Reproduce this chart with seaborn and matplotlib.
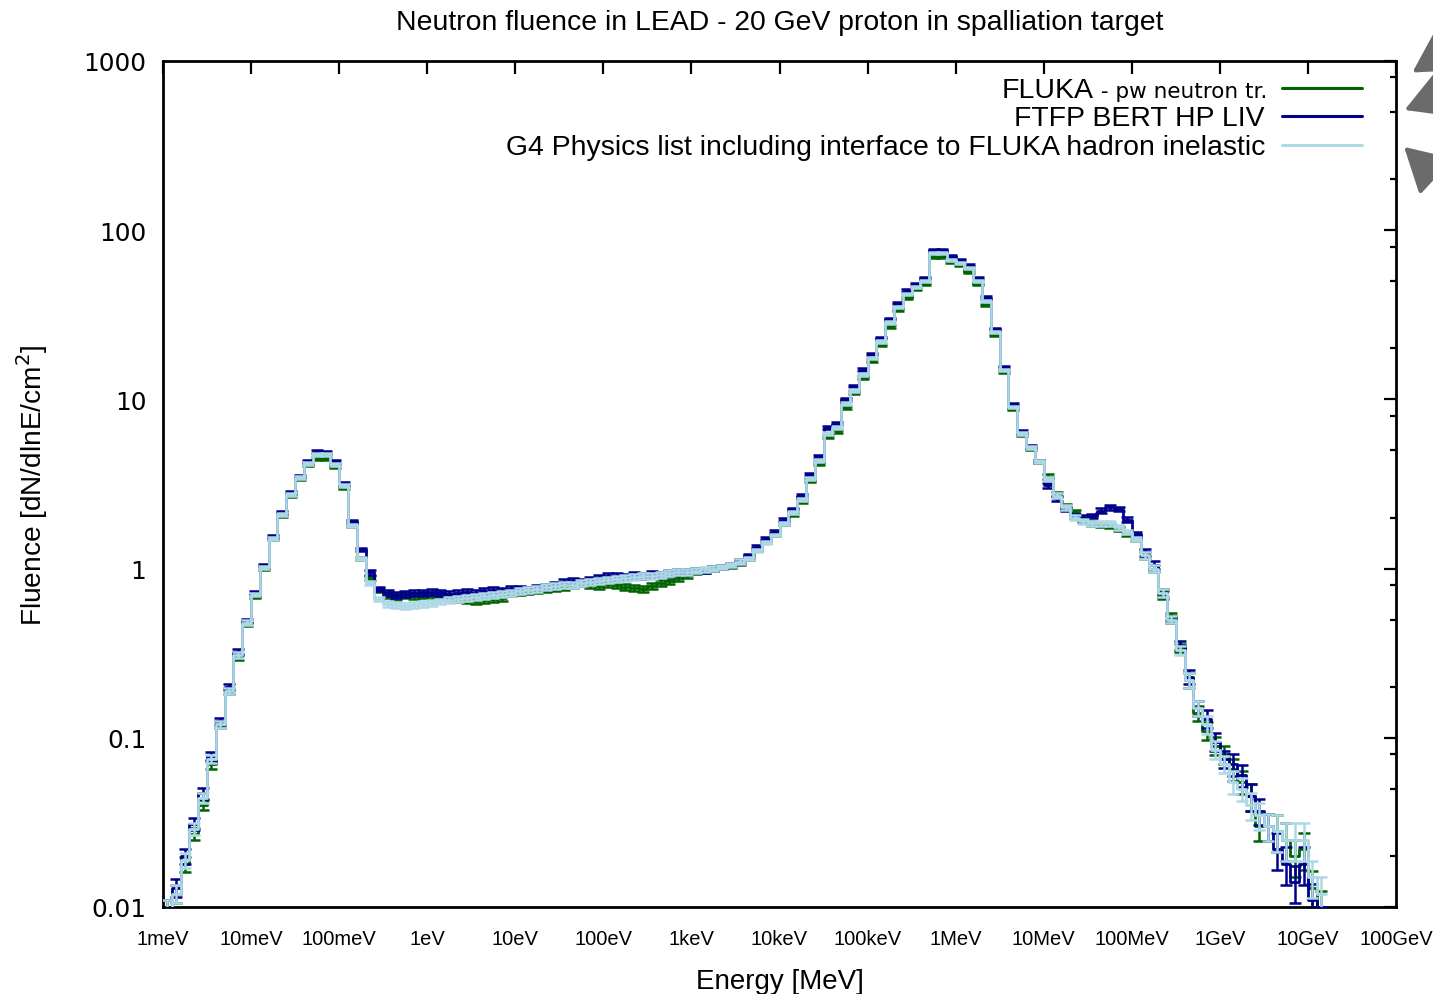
import numpy as np
import pandas as pd
import matplotlib
matplotlib.use("Agg")
import matplotlib.pyplot as plt
import seaborn as sns
from matplotlib.ticker import FixedLocator, NullLocator, NullFormatter

# ---------------- data ----------------
series_names = ["FLUKA", "FTFP BERT HP LIV",
                "G4 Physics list including interface to FLUKA hadron inelastic"]
series_colors = ["#006400", "#00008b", "#add8e6"]

e_min_mev = 1e-9          # 1 meV, lower edge of first bin
bins_per_decade = 10

fluka = [
    0.0095, 0.012, 0.018, 0.027, 0.04, 0.07, 0.12, 0.19, 0.30, 0.47,
    0.68, 1.0, 1.5, 2.05, 2.7, 3.4, 4.1, 4.5, 4.5, 4.0,
    3.0, 1.8, 1.15, 0.88, 0.75, 0.70, 0.68, 0.70, 0.69, 0.70,
    0.69, 0.70, 0.68, 0.66, 0.65, 0.64, 0.65, 0.66, 0.67, 0.72,
    0.73, 0.74, 0.75, 0.76, 0.77, 0.78, 0.80, 0.82, 0.80, 0.79,
    0.81, 0.80, 0.78, 0.77, 0.76, 0.79, 0.82, 0.84, 0.88, 0.92,
    0.96, 0.98, 1.0, 1.02, 1.04, 1.08, 1.15, 1.3, 1.45, 1.6,
    1.85, 2.1, 2.5, 3.3, 4.2, 6.0, 6.5, 9.0, 11.0, 13.5,
    17.0, 21.0, 27.0, 34.0, 40.0, 45.0, 48.0, 70.0, 70.0, 65.0,
    62.0, 57.0, 48.0, 36.0, 24.0, 14.5, 8.8, 6.2, 5.1, 4.3,
    3.5, 2.75, 2.35, 2.15, 1.95, 1.85, 1.82, 1.78, 1.72, 1.6,
    1.5, 1.2, 1.0, 0.7, 0.52, 0.34, 0.22, 0.14, 0.11, 0.09,
    0.08, 0.065, 0.055, 0.045, 0.03, 0.03, 0.028, 0.025, 0.02, 0.022,
    0.013, 0.01,
]

ftfp = [
    0.0095, 0.013, 0.02, 0.031, 0.047, 0.078, 0.125, 0.2, 0.32, 0.49,
    0.72, 1.05, 1.55, 2.15, 2.8, 3.5, 4.3, 4.9, 4.85, 4.3,
    3.2, 1.9, 1.3, 0.95, 0.76, 0.72, 0.70, 0.71, 0.72, 0.72,
    0.73, 0.72, 0.71, 0.72, 0.73, 0.72, 0.74, 0.75, 0.74, 0.76,
    0.76, 0.75, 0.77, 0.78, 0.80, 0.83, 0.85, 0.84, 0.86, 0.88,
    0.90, 0.90, 0.89, 0.92, 0.91, 0.93, 0.92, 0.94, 0.95, 0.95,
    0.97, 0.98, 1.0, 1.02, 1.05, 1.1, 1.2, 1.35, 1.5, 1.65,
    1.95, 2.25, 2.7, 3.6, 4.6, 6.8, 7.2, 10.0, 12.0, 15.0,
    18.5, 23.0, 30.0, 37.0, 44.0, 48.0, 52.0, 76.0, 76.0, 70.0,
    67.0, 62.0, 52.0, 40.0, 26.0, 15.5, 9.4, 6.5, 5.3, 4.3,
    3.1, 2.6, 2.25, 2.05, 2.0, 2.05, 2.2, 2.3, 2.25, 1.95,
    1.6, 1.25, 1.05, 0.72, 0.5, 0.35, 0.23, 0.15, 0.13, 0.095,
    0.075, 0.07, 0.06, 0.045, 0.037, 0.03, 0.022, 0.018, 0.014, 0.018,
    0.011, 0.008,
]

g4fluka = [
    0.0095, 0.012, 0.019, 0.029, 0.044, 0.075, 0.12, 0.19, 0.31, 0.48,
    0.70, 1.02, 1.5, 2.1, 2.75, 3.45, 4.2, 4.75, 4.75, 4.15,
    3.1, 1.8, 1.15, 0.82, 0.66, 0.62, 0.61, 0.60, 0.61, 0.62,
    0.63, 0.64, 0.65, 0.66, 0.67, 0.68, 0.69, 0.70, 0.71, 0.72,
    0.74, 0.75, 0.76, 0.78, 0.79, 0.80, 0.80, 0.82, 0.83, 0.85,
    0.86, 0.87, 0.88, 0.89, 0.90, 0.91, 0.92, 0.94, 0.95, 0.96,
    0.97, 0.99, 1.0, 1.02, 1.05, 1.1, 1.15, 1.28, 1.42, 1.58,
    1.85, 2.15, 2.55, 3.4, 4.35, 6.3, 6.8, 9.4, 11.3, 14.0,
    17.5, 22.0, 28.5, 35.0, 42.0, 46.0, 50.0, 73.0, 73.0, 67.0,
    64.0, 60.0, 50.0, 38.0, 25.0, 15.0, 9.0, 6.3, 5.2, 4.3,
    3.4, 2.7, 2.3, 2.0, 1.9, 1.85, 1.85, 1.85, 1.75, 1.65,
    1.5, 1.2, 1.0, 0.72, 0.5, 0.33, 0.22, 0.15, 0.12, 0.085,
    0.07, 0.055, 0.05, 0.04, 0.035, 0.03, 0.028, 0.025, 0.025, 0.025,
    0.015, 0.012,
]

rel_err = [
    0.15, 0.12, 0.10, 0.08, 0.07, 0.06, 0.05, 0.04, 0.04, 0.03,
    0.02, 0.02, 0.02, 0.02, 0.02, 0.02, 0.02, 0.02, 0.02, 0.02,
    0.02, 0.02, 0.02, 0.03, 0.03, 0.04, 0.04, 0.04, 0.04, 0.04,
    0.04, 0.04, 0.04, 0.04, 0.04, 0.04, 0.04, 0.04, 0.04, 0.04,
    0.04, 0.04, 0.04, 0.04, 0.04, 0.04, 0.04, 0.04, 0.04, 0.04,
    0.04, 0.04, 0.04, 0.04, 0.04, 0.04, 0.04, 0.04, 0.04, 0.04,
    0.035, 0.035, 0.035, 0.03, 0.03, 0.03, 0.02, 0.02, 0.02, 0.02,
    0.02, 0.02, 0.02, 0.02, 0.02, 0.02, 0.02, 0.02, 0.02, 0.02,
    0.015, 0.015, 0.015, 0.015, 0.015, 0.015, 0.015, 0.015, 0.015, 0.015,
    0.015, 0.015, 0.015, 0.015, 0.015, 0.015, 0.015, 0.02, 0.02, 0.02,
    0.03, 0.03, 0.03, 0.03, 0.03, 0.03, 0.03, 0.03, 0.03, 0.03,
    0.03, 0.05, 0.05, 0.05, 0.05, 0.06, 0.10, 0.10, 0.12, 0.12,
    0.12, 0.15, 0.15, 0.18, 0.18, 0.18, 0.25, 0.25, 0.25, 0.25,
    0.25, 0.25,
]

xtick_values = [1e-9, 1e-8, 1e-7, 1e-6, 1e-5, 1e-4, 1e-3, 1e-2, 1e-1,
                1e0, 1e1, 1e2, 1e3, 1e4, 1e5]
xtick_labels = ["1meV", "10meV", "100meV", "1eV", "10eV", "100eV", "1keV",
                "10keV", "100keV", "1MeV", "10MeV", "100MeV", "1GeV",
                "10GeV", "100GeV"]
ytick_values = [0.01, 0.1, 1, 10, 100, 1000]
ytick_labels = ["0.01", "0.1", "1", "10", "100", "1000"]
ytick_minor = [m * d for d in [0.01, 0.1, 1, 10, 100] for m in (2, 5, 8)]

title = "Neutron fluence in LEAD - 20 GeV proton in spalliation target"
xlabel = "Energy [MeV]"
ylabel = "Fluence [dN/dlnE/cm$^2$]"

# ---------------- figure ----------------
sns.set_style("white")
plt.rcParams["font.family"] = ["Liberation Sans", "DejaVu Sans"]
for key in ["text.color", "axes.labelcolor", "xtick.color", "ytick.color"]:
    plt.rcParams[key] = "black"

W, H = 1433, 995
fig = plt.figure(figsize=(W / 100, H / 100), dpi=100)
ax = fig.add_axes([163 / W, 1 - 908 / H, 1233 / W, 846 / H])

n_bins = len(ftfp)
edges = e_min_mev * 10 ** (np.arange(n_bins + 1) / bins_per_decade)
centers = np.sqrt(edges[:-1] * edges[1:])

all_series = [fluka, ftfp, g4fluka]
z = 2
for name, color, vals in zip(series_names, series_colors, all_series):
    vals = np.asarray(vals, dtype=float)
    err = vals * np.asarray(rel_err)
    ax.errorbar(centers, vals, yerr=err, fmt="none", ecolor=color,
                elinewidth=1.8, capsize=4.2, capthick=1.8, zorder=z)
    df = pd.DataFrame({"E": np.append(edges[:-1], edges[-1]),
                       "flux": np.append(vals, vals[-1]),
                       "series": name})
    sns.lineplot(data=df, x="E", y="flux", color=color, drawstyle="steps-post",
                 linewidth=2.0, estimator=None, sort=False, legend=False,
                 ax=ax, zorder=z + 0.5)
    z += 1

ax.set_xscale("log")
ax.set_yscale("log")
ax.set_xlim(1e-9, 1e5)
ax.set_ylim(0.01, 1000)

ax.xaxis.set_major_locator(FixedLocator(xtick_values))
ax.xaxis.set_minor_locator(NullLocator())
ax.set_xticklabels(xtick_labels, fontsize=14.5, family="Liberation Sans")
ax.yaxis.set_major_locator(FixedLocator(ytick_values))
ax.yaxis.set_minor_locator(FixedLocator(ytick_minor))
ax.yaxis.set_minor_formatter(NullFormatter())
ax.set_yticklabels(ytick_labels, fontsize=17.8, family="DejaVu Sans")

ax.tick_params(axis="both", which="both", direction="in", top=True,
               right=True, width=1.6, colors="black")
ax.tick_params(axis="both", which="major", length=9)
ax.tick_params(axis="y", which="minor", length=4.5)
ax.tick_params(axis="x", which="major", pad=16)
ax.tick_params(axis="y", which="major", pad=12)

for sp in ax.spines.values():
    sp.set_linewidth(2.0)
    sp.set_color("black")

ax.set_xlabel(xlabel, fontsize=20, labelpad=14)
ax.set_ylabel(ylabel, fontsize=20.2, labelpad=24)
ax.set_title(title, fontsize=20.4, pad=23)
ax.grid(False)

# ---------------- legend (gnuplot style, text right / sample left) ---------
leg_text_x = (1265 - 163) / 1233
leg_line_x0 = (1282 - 163) / 1233
leg_line_x1 = (1362 - 163) / 1233
row_centers = [89, 117, 146]
for i, (name, color) in enumerate(zip(series_names, series_colors)):
    yc = (908 - row_centers[i]) / 846
    ax.plot([leg_line_x0, leg_line_x1], [yc, yc], color=color, lw=2.2,
            transform=ax.transAxes, clip_on=False)
    yb = (908 - row_centers[i] - 9) / 846
    if i == 0:
        small = ax.text((1267 - 163) / 1233, yb, " - pw neutron tr.",
                        transform=ax.transAxes, ha="right", va="baseline",
                        fontsize=15.5, family="DejaVu Sans")
        renderer = fig.canvas.get_renderer()
        bb = small.get_window_extent(renderer)
        x_left = ax.transAxes.inverted().transform((bb.x0, bb.y0))[0]
        ax.text(x_left, yb, name, transform=ax.transAxes, ha="right",
                va="baseline", fontsize=20.5)
    else:
        ax.text(leg_text_x, yb, name, transform=ax.transAxes, ha="right",
                va="baseline", fontsize=20.4)

# ---------------- grey arrows at the right edge ----------------
arrow_kw = dict(arrowstyle="-|>,head_length=0.8,head_width=0.45",
                color="#6b6b6b", lw=3, mutation_scale=34)
for tip, tail in [((1410, H - 75), (1472, H - 36)),
                  ((1402, H - 112), (1472, H - 84)),
                  ((1402, H - 146), (1452, H - 192))]:
    fig.add_artist(matplotlib.patches.FancyArrowPatch(
        posA=(tail[0] / W, tail[1] / H), posB=(tip[0] / W, tip[1] / H),
        transform=fig.transFigure, **arrow_kw))

fig.savefig("out.png", dpi=100)
